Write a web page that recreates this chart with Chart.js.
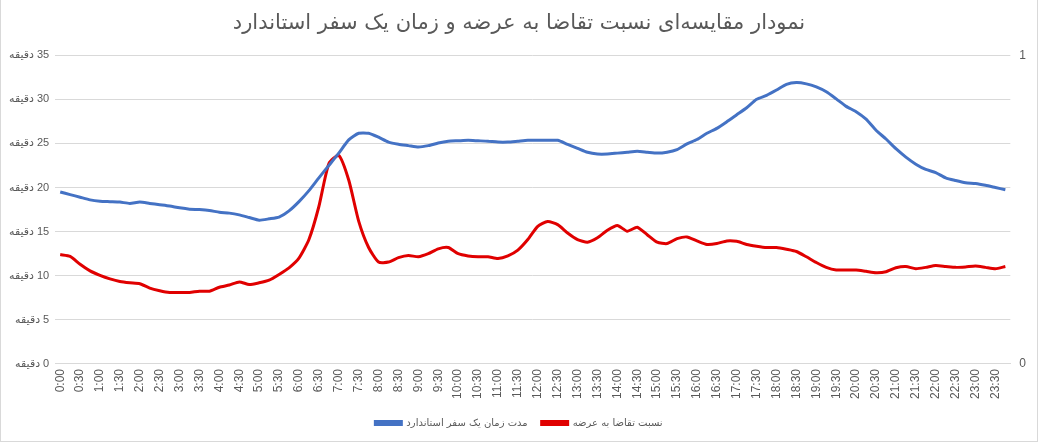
<!DOCTYPE html>
<html>
<head>
<meta charset="utf-8">
<script src="https://cdn.jsdelivr.net/npm/chart.js"></script>
<style>
body { margin: 0; background: #fff; }
#wrap { position: relative; width: 1038px; height: 442px; box-sizing: border-box; border-left: 1px solid #d9d9d9; border-right: 1px solid #d9d9d9; border-bottom: 1px solid #d9d9d9; }
</style>
</head>
<body>
<div id="wrap"><canvas id="myChart"></canvas></div>
<script>
var chartTitle = "نمودار مقایسه‌ای نسبت تقاضا به عرضه و زمان یک سفر استاندارد";
var seriesNames = ["مدت زمان یک سفر استاندارد", "نسبت تقاضا به عرضه"];
var unitWord = "دقیقه";

var times = [
  "0:00","0:15","0:30","0:45","1:00","1:15","1:30","1:45","2:00","2:15","2:30","2:45",
  "3:00","3:15","3:30","3:45","4:00","4:15","4:30","4:45","5:00","5:15","5:30","5:45",
  "6:00","6:15","6:30","6:45","7:00","7:15","7:30","7:45","8:00","8:15","8:30","8:45",
  "9:00","9:15","9:30","9:45","10:00","10:15","10:30","10:45","11:00","11:15","11:30","11:45",
  "12:00","12:15","12:30","12:45","13:00","13:15","13:30","13:45","14:00","14:15","14:30","14:45",
  "15:00","15:15","15:30","15:45","16:00","16:15","16:30","16:45","17:00","17:15","17:30","17:45",
  "18:00","18:15","18:30","18:45","19:00","19:15","19:30","19:45","20:00","20:15","20:30","20:45",
  "21:00","21:15","21:30","21:45","22:00","22:15","22:30","22:45","23:00","23:15","23:30","23:45"
];

// blue: trip time (minutes)
var tripTime = [
  19.5,19.2,18.9,18.6,18.45,18.4,18.35,18.2,18.35,18.2,18.05,17.9,
  17.7,17.55,17.5,17.4,17.2,17.1,16.9,16.6,16.3,16.45,16.65,17.35,
  18.4,19.65,21.1,22.5,23.9,25.4,26.15,26.15,25.7,25.15,24.9,24.75,
  24.6,24.75,25.05,25.25,25.3,25.35,25.3,25.25,25.15,25.15,25.25,25.35,
  25.35,25.35,25.35,24.9,24.45,24.0,23.8,23.8,23.9,24.0,24.1,24.0,
  23.9,24.0,24.3,24.95,25.45,26.15,26.7,27.45,28.25,29.05,30.0,30.45,
  31.05,31.7,31.9,31.75,31.4,30.85,30.05,29.2,28.6,27.75,26.5,25.5,
  24.4,23.45,22.65,22.05,21.7,21.1,20.8,20.55,20.45,20.25,20.0,19.75
];

// red: demand / supply ratio
var demandRatio = [
  12.4,12.2,11.3,10.55,10.05,9.65,9.35,9.2,9.1,8.6,8.3,8.1,
  8.1,8.1,8.25,8.25,8.7,8.95,9.3,9.0,9.2,9.5,10.15,10.9,
  12.0,14.1,17.85,22.7,23.65,20.85,16.2,13.2,11.55,11.55,12.05,12.3,
  12.15,12.5,13.05,13.2,12.5,12.25,12.15,12.15,11.95,12.25,12.9,14.1,
  15.6,16.15,15.8,14.85,14.1,13.8,14.3,15.15,15.7,15.05,15.5,14.65,
  13.8,13.65,14.2,14.4,13.95,13.55,13.65,13.95,13.9,13.55,13.35,13.2,
  13.2,13.0,12.75,12.15,11.5,10.95,10.65,10.65,10.65,10.5,10.35,10.45,
  10.9,11.05,10.8,10.95,11.15,11.05,10.95,11.0,11.1,10.95,10.8,11.05
];

var txt = "#595959";
var grid = "#d9d9d9";

new Chart("myChart", {
  type: "line",
  data: {
    labels: times,
    datasets: [{
      label: seriesNames[0],
      data: tripTime,
      borderColor: "#4472C4",
      backgroundColor: "#4472C4",
      borderWidth: 3,
      pointRadius: 0,
      tension: 0.2,
      yAxisID: "y"
    }, {
      label: seriesNames[1],
      data: demandRatio,
      borderColor: "#e00000",
      backgroundColor: "#e00000",
      borderWidth: 3,
      pointRadius: 0,
      tension: 0.2,
      yAxisID: "y"
    }]
  },
  options: {
    responsive: true,
    maintainAspectRatio: false,
    animation: false,
    layout: { padding: { left: 2, right: 2, top: 6, bottom: 3 } },
    plugins: {
      title: {
        display: true,
        text: chartTitle,
        color: txt,
        font: { family: "DejaVu Sans", size: 21, weight: "normal" },
        padding: { top: 5, bottom: 19 }
      },
      legend: {
        position: "bottom",
        labels: {
          color: txt,
          font: { family: "DejaVu Sans", size: 10 },
          boxWidth: 26,
          boxHeight: 3,
          padding: 14
        }
      },
      tooltip: { enabled: false }
    },
    scales: {
      x: {
        offset: true,
        grid: { display: false, drawTicks: false },
        border: { color: grid },
        ticks: {
          autoSkip: false,
          minRotation: 90,
          maxRotation: 90,
          color: txt,
          padding: 5,
          font: { family: "Liberation Sans", size: 12 },
          callback: function (v, i) { return i % 2 == 0 ? this.getLabelForValue(v) : ""; }
        }
      },
      y: {
        position: "left",
        min: 0,
        max: 35,
        ticks: {
          stepSize: 5,
          color: txt,
          padding: 6,
          font: { family: "Liberation Sans, DejaVu Sans", size: 11 },
          callback: function (v) { return "\u200F" + v + " " + unitWord; }
        },
        grid: { color: grid, drawTicks: false },
        border: { display: false }
      },
      y2: {
        position: "right",
        min: 0,
        max: 1,
        ticks: {
          stepSize: 1,
          color: txt,
          padding: 9,
          font: { family: "Liberation Sans", size: 12 }
        },
        grid: { display: false, drawTicks: false },
        border: { display: false }
      }
    }
  }
});
</script>
</body>
</html>
